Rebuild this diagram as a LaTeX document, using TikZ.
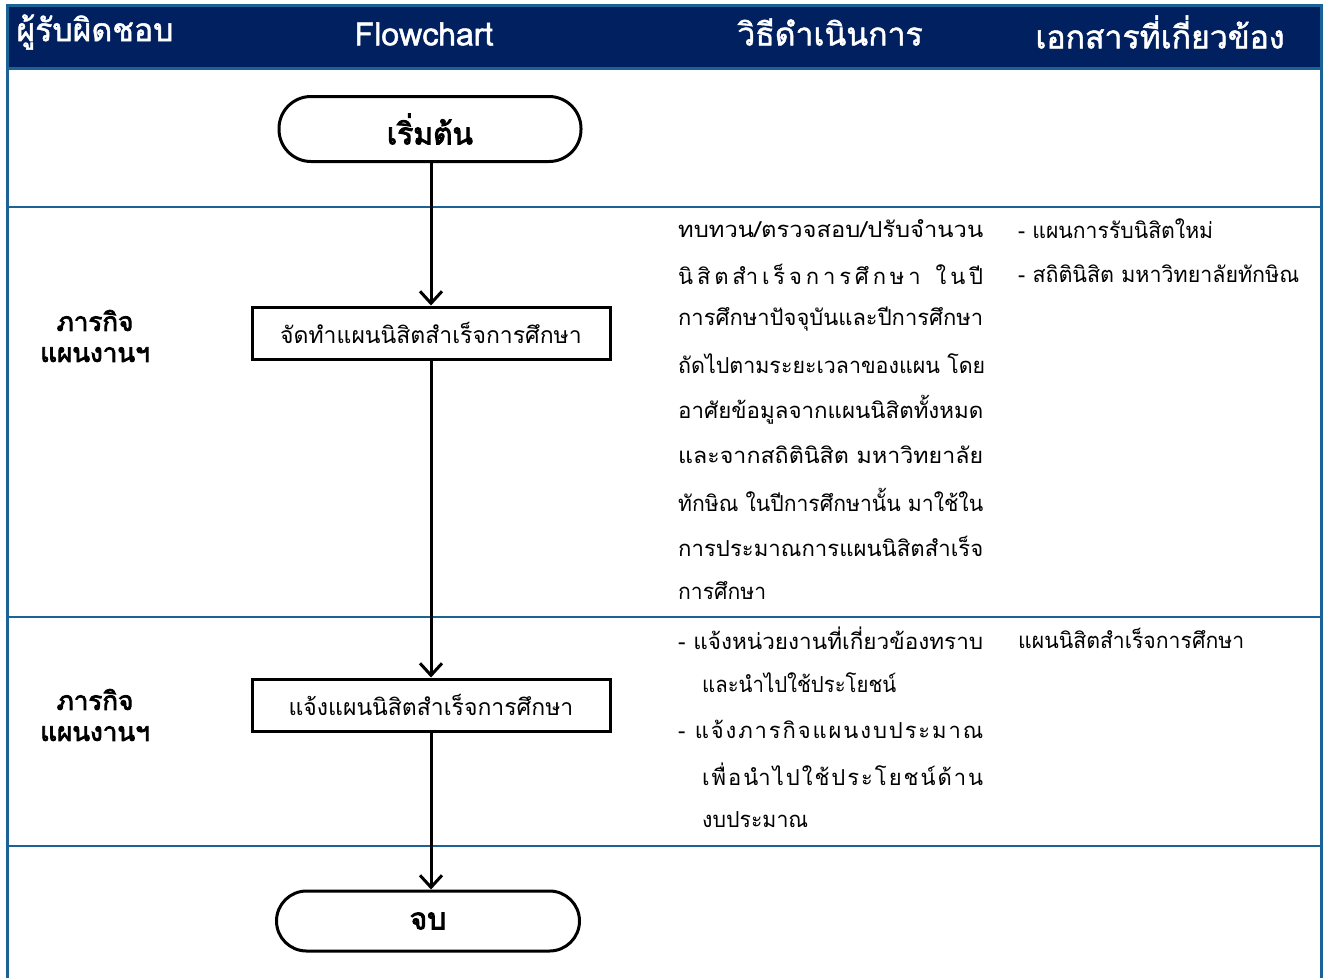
\documentclass[tikz,border=0pt]{standalone}
\usepackage{fontspec}
\usepackage{graphicx}
\setmainfont[Script=Thai]{Loma}
\newfontfamily\thaib[Script=Thai,FakeBold=3]{Loma}
\newfontfamily\thaih[Script=Thai,FakeBold=1.5]{Loma}
\usetikzlibrary{arrows.meta}
\definecolor{navy}{HTML}{002060}
\definecolor{rule}{HTML}{1B6296}
\newcommand\jline[2]{\makebox[#1][s]{#2}}
\newcommand\fitline[2]{\resizebox{#1}{\height}{#2}}
\tikzset{
  term/.style={draw,line width=3pt,rounded corners=32pt,minimum width=302pt,minimum height=65pt,font=\fontsize{30}{34}\selectfont\thaib},
  proc/.style={draw,line width=3pt,minimum width=358pt,minimum height=52pt,font=\fontsize{23}{27}\selectfont},
  flow/.style={line width=3pt,-{Straight Barb[length=12pt,width=22pt,line width=3pt]}},
  hdr/.style={text=white,font=\fontsize{32}{36}\selectfont\thaih},
  body/.style={anchor=west,inner sep=0pt,font=\fontsize{22}{26}\selectfont},
  lane/.style={align=center,font=\fontsize{26}{31}\selectfont\thaib}
}
\begin{document}
\begin{tikzpicture}[x=1pt,y=-1pt]
\useasboundingbox (0,0) rectangle (1328,978);
% header
\fill[navy] (7,5) rectangle (1321,68);
\draw[rule,line width=3pt] (7,5) -- (1321,5);
\draw[rule,line width=3pt] (7,68) -- (1321,68);
\draw[rule,line width=3pt] (7,4) -- (7,978);
\draw[rule,line width=3pt] (1321,4) -- (1321,978);
\draw[rule,line width=2pt] (7,207) -- (1321,207);
\draw[rule,line width=2pt] (7,617) -- (1321,617);
\draw[rule,line width=2pt] (7,846) -- (1321,846);
\node[hdr] (h1) at (95,32) {ผู้รับผิดชอบ};
\node[hdr] (h2) at (424,34) {Flowchart};
\node[hdr] (h3) at (830,32) {วิธีดำเนินการ};
\node[hdr] (h4) at (1160,32) {เอกสารที่เกี่ยวข้อง};
% flow
\node[term] (start) at (430,129) {เริ่มต้น};
\node[proc] (p1) at (431,333) {จัดทำแผนนิสิตสำเร็จการศึกษา};
\node[proc] (p2) at (431,705) {แจ้งแผนนิสิตสำเร็จการศึกษา};
\node[term,minimum width=303pt,minimum height=60pt,rounded corners=30pt] (end) at (428,921) {จบ};
\draw[flow] (start.south -| p1.north) -- (p1.north);
\draw[flow] (p1) -- (p2);
\draw[flow] (p2.south) -- (p2.south |- end.north);
% lanes
\node[lane] (l1) at (95,336) {ภารกิจ\\แผนงานฯ};
\node[lane] (l2) at (95,715) {ภารกิจ\\แผนงานฯ};
% row 2 text
\node[body] (a1) at (678,229) {\fitline{305pt}{ทบทวน/ตรวจสอบ/ปรับจำนวน}};
\node[body] (a2) at (678,274) {\jline{305pt}{นิ\hfil สิ\hfil ต\hfil สำ\hfil เ\hfil ร็\hfil จ\hfil ก\hfil า\hfil ร\hfil ศึ\hfil ก\hfil ษ\hfil า\hfil\ \hfil ใ\hfil น\hfil ปี}};
\node[body] (a3) at (678,319) {\fitline{305pt}{การศึกษาปัจจุบันและปีการศึกษา}};
\node[body] (a4) at (678,364) {\fitline{307pt}{ถัดไปตามระยะเวลาของแผน โดย}};
\node[body] (a5) at (678,410) {\fitline{305pt}{อาศัยข้อมูลจากแผนนิสิตทั้งหมด}};
\node[body] (a6) at (678,455) {\fitline{305pt}{และจากสถิตินิสิต มหาวิทยาลัย}};
\node[body] (a7) at (678,500) {\fitline{305pt}{ทักษิณ ในปีการศึกษานั้น มาใช้ใน}};
\node[body] (a8) at (678,546) {\fitline{305pt}{การประมาณการแผนนิสิตสำเร็จ}};
\node[body] (a9) at (678,591) {\fitline{88pt}{การศึกษา}};
\node[body] (d1) at (1018,229) {\fitline{195pt}{- แผนการรับนิสิตใหม่}};
\node[body] (d2) at (1018,274) {\fitline{281pt}{- สถิตินิสิต มหาวิทยาลัยทักษิณ}};
% row 3 text
\node[body] (b1) at (678,638) {\fitline{305pt}{- แจ้งหน่วยงานที่เกี่ยวข้องทราบ}};
\node[body] (b2) at (702,683) {\fitline{194pt}{และนำไปใช้ประโยชน์}};
\node[body] (b3) at (678,729) {\jline{305pt}{-\ \hfil แ\hfil จ้\hfil ง\hfil ภ\hfil า\hfil ร\hfil กิ\hfil จ\hfil แ\hfil ผ\hfil น\hfil ง\hfil บ\hfil ป\hfil ร\hfil ะ\hfil ม\hfil า\hfil ณ}};
\node[body] (b4) at (702,774) {\jline{281pt}{เ\hfil พื่\hfil อ\hfil นำ\hfil ไ\hfil ป\hfil ใ\hfil ช้\hfil ป\hfil ร\hfil ะ\hfil โ\hfil ย\hfil ช\hfil น์\hfil ด้\hfil า\hfil น}};
\node[body] (b5) at (702,820) {\fitline{106pt}{งบประมาณ}};
\node[body] (d3) at (1018,638) {\fitline{226pt}{แผนนิสิตสำเร็จการศึกษา}};
\end{tikzpicture}
\end{document}
